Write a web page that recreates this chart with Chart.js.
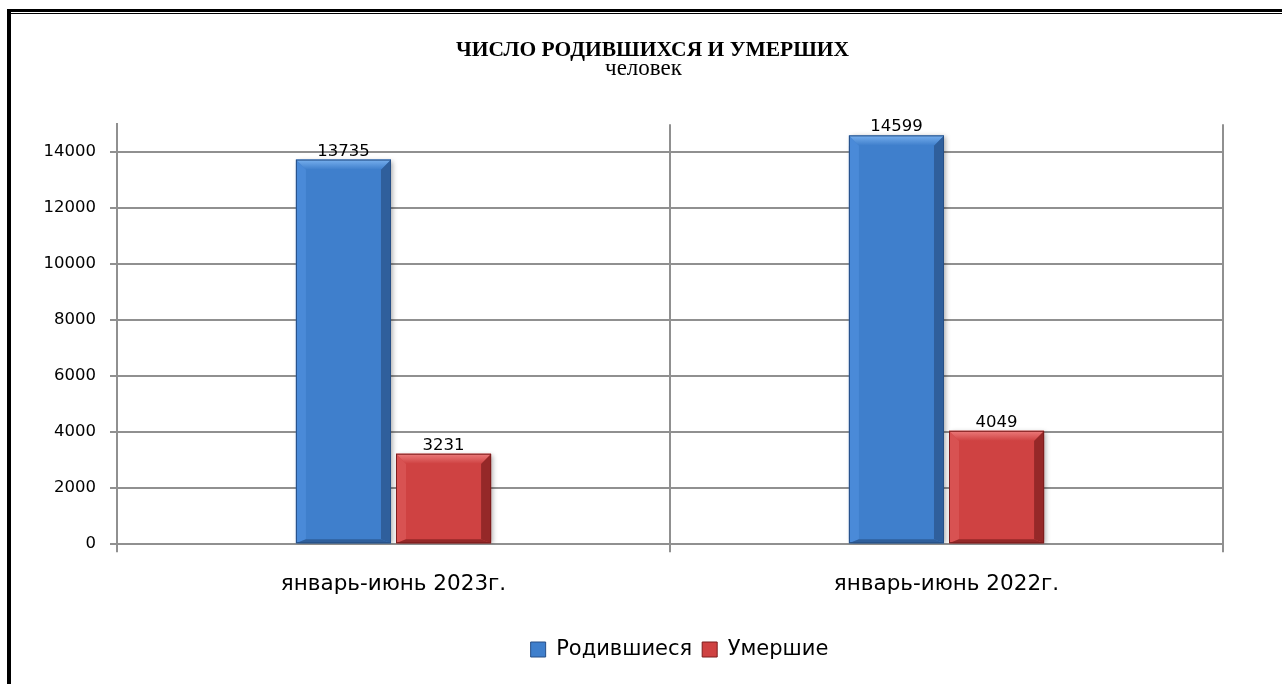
<!DOCTYPE html>
<html>
<head>
<meta charset="utf-8">
<script src="https://cdn.jsdelivr.net/npm/chart.js@4.4.1/dist/chart.umd.min.js"></script>
<style>
  html, body { margin: 0; padding: 0; background: #fff; }
  #wrap { position: relative; width: 1282px; height: 684px; }
  #frameTop { position: absolute; left: 7px; top: 9px; width: 1275px; height: 3px; background: #000; }
  #frameTop2 { position: absolute; left: 11px; top: 13px; width: 1271px; height: 1px; background: #000; }
  #frameLeft { position: absolute; left: 7px; top: 9px; width: 4px; height: 675px; background: #000; }
</style>
</head>
<body>
<div id="wrap">
  <canvas id="c" width="1282" height="684"></canvas>
  <div id="frameTop"></div>
  <div id="frameTop2"></div>
  <div id="frameLeft"></div>
</div>
<script>
const categories = ['январь-июнь 2023г.', 'январь-июнь 2022г.'];
const seriesNames = ['Родившиеся', 'Умершие'];
const births = [13735, 14599];
const deaths = [3231, 4049];
const yTicks = [0, 2000, 4000, 6000, 8000, 10000, 12000, 14000];
const titleText = 'ЧИСЛО РОДИВШИХСЯ И УМЕРШИХ';
const subtitleText = 'человек';

const palette = [
  { main: '#3f7fcc', light: '#78b0ee', lightSide: '#4a8ad8', dark: '#2f5f9c', darker: '#264f86' },
  { main: '#cf4242', light: '#ec7c7c', lightSide: '#d85252', dark: '#952828', darker: '#7d1d1d' }
];

const GRID = '#909090';

const bevelPlugin = {
  id: 'bevel',
  beforeDatasetsDraw(chart) {
    const ctx = chart.ctx;
    ctx.save();
    ctx.shadowColor = 'rgba(0,0,0,0.35)';
    ctx.shadowBlur = 5;
    ctx.shadowOffsetX = 2;
    ctx.shadowOffsetY = 1;
  },
  afterDatasetsDraw(chart) {
    const ctx = chart.ctx;
    ctx.restore();
    chart.data.datasets.forEach((ds, di) => {
      const meta = chart.getDatasetMeta(di);
      const col = palette[di];
      meta.data.forEach((bar) => {
        const { x, y, base, width } = bar.getProps(['x', 'y', 'base', 'width'], true);
        const l = x - width / 2, r = x + width / 2, t = y, b = base;
        const bv = Math.min(10, (b - t) / 3);
        const bb = 4;
        const quad = (pts, fill) => {
          ctx.beginPath();
          ctx.moveTo(pts[0][0], pts[0][1]);
          for (let i = 1; i < pts.length; i++) ctx.lineTo(pts[i][0], pts[i][1]);
          ctx.closePath();
          ctx.fillStyle = fill;
          ctx.fill();
        };
        ctx.save();
        quad([[l, t], [l + bv, t + bv], [l + bv, b - bb], [l, b]], col.lightSide);
        quad([[r, t], [r - bv, t + bv], [r - bv, b - bb], [r, b]], col.dark);
        quad([[l, b], [l + bv, b - bb], [r - bv, b - bb], [r, b]], col.dark);
        const g = ctx.createLinearGradient(0, t, 0, t + bv);
        g.addColorStop(0, col.light);
        g.addColorStop(1, col.main);
        quad([[l, t], [r, t], [r - bv, t + bv], [l + bv, t + bv]], g);
        ctx.strokeStyle = col.darker;
        ctx.lineWidth = 1;
        ctx.strokeRect(l + 0.5, t + 0.5, width - 1, b - t - 1);
        ctx.restore();
      });
    });
    ctx.save();
    ctx.font = '16.5px "DejaVu Sans"';
    ctx.fillStyle = '#000';
    ctx.textAlign = 'center';
    ctx.textBaseline = 'alphabetic';
    chart.data.datasets.forEach((ds, di) => {
      const meta = chart.getDatasetMeta(di);
      meta.data.forEach((bar, i) => {
        ctx.fillText(String(ds.data[i]), bar.x, bar.y - 4);
      });
    });
    ctx.restore();
  }
};

const boxShift = {
  id: 'boxShift',
  afterLayout(chart) {
    const lg = chart.legend;
    if (lg) { lg.left += 68; lg.right += 68; }
    chart.boxes.forEach((bx) => {
      if (bx.options && bx.options.text === titleText) { bx.left += 41; bx.right += 41; }
      if (bx.options && bx.options.text === subtitleText) { bx.left += 32; bx.right += 32; }
    });
  }
};

const chart = new Chart(document.getElementById('c'), {
  type: 'bar',
  data: {
    labels: categories,
    datasets: [
      { label: seriesNames[0], data: births, backgroundColor: palette[0].main, borderWidth: 0,
        barPercentage: 0.95, categoryPercentage: 0.362 },
      { label: seriesNames[1], data: deaths, backgroundColor: palette[1].main, borderWidth: 0,
        barPercentage: 0.95, categoryPercentage: 0.362 }
    ]
  },
  options: {
    responsive: false,
    animation: false,
    devicePixelRatio: 1,
    layout: { padding: { left: 0, right: 59, top: 43, bottom: 14 } },
    plugins: {
      title: {
        display: true, text: titleText, color: '#000',
        font: { family: '"Liberation Serif"', size: 21.5, weight: 'bold', lineHeight: 0.7 },
        padding: { top: 0, bottom: 0 }
      },
      subtitle: {
        display: true, text: subtitleText, color: '#000',
        font: { family: '"Liberation Serif"', size: 23, weight: 'normal', lineHeight: 0.7 },
        padding: { top: 3, bottom: 47 }
      },
      legend: {
        position: 'bottom',
        labels: {
          color: '#000',
          font: { family: '"DejaVu Sans"', size: 21 },
          boxWidth: 15, boxHeight: 15, padding: 10,
          generateLabels(chart) {
            return chart.data.datasets.map((ds, i) => ({
              text: ds.label, fillStyle: palette[i].main, strokeStyle: palette[i].darker,
              lineWidth: 1, datasetIndex: i, hidden: false
            }));
          }
        }
      },
      tooltip: { enabled: false }
    },
    scales: {
      x: {
        offset: true,
        afterFit(scale) { scale.height += 13; },
        grid: { offset: true, color: GRID, lineWidth: 2, tickLength: 8, drawOnChartArea: true },
        border: { display: true, color: GRID, width: 2 },
        ticks: { color: '#000', font: { family: '"DejaVu Sans"', size: 21.5 }, padding: 19, maxRotation: 0 }
      },
      y: {
        min: 0, max: 15000,
        afterBuildTicks(scale) { scale.ticks = yTicks.map(v => ({ value: v })); },
        afterFit(scale) { scale.width = 117; },
        grid: { color: GRID, lineWidth: 2, tickLength: 7 },
        border: { display: true, color: GRID, width: 2 },
        ticks: { color: '#000', font: { family: '"DejaVu Sans"', size: 16.5 }, padding: 14,
                 callback: (v) => String(v) }
      }
    }
  },
  plugins: [bevelPlugin, boxShift]
});
</script>
</body>
</html>
